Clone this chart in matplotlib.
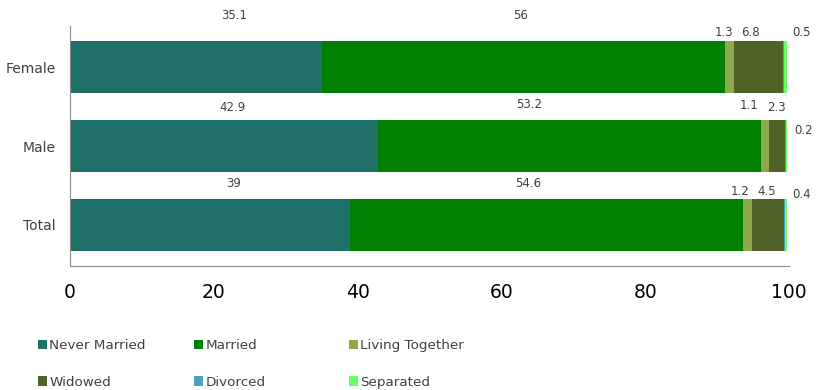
import numpy as np
import matplotlib
matplotlib.use('Agg')
from matplotlib import pyplot as plt
from matplotlib.patches import Patch

groups = ['Female', 'Male', 'Total']
status = ['Never Married', 'Married', 'Living Together', 'Widowed', 'Divorced', 'Separated']
colors = ['#1F7068', '#008000', '#8FA84E', '#4F6228', '#4BA3C0', '#66FF66']

never_married = [35.1, 42.9, 39.0]
married = [56.0, 53.2, 54.6]
living_together = [1.3, 1.1, 1.2]
widowed = [6.8, 2.3, 4.5]
divorced = [0.1, 0.1, 0.1]
separated = [0.5, 0.2, 0.4]

series = [never_married, married, living_together, widowed, divorced, separated]

# label text shown per group (divorced is not labelled in the original)
label_text = [
    ['35.1', '56', '1.3', '6.8', '0.5'],
    ['42.9', '53.2', '1.1', '2.3', '0.2'],
    ['39', '54.6', '1.2', '4.5', '0.4'],
]
# where the labels sit (x in data units, y offset from bar centre)
label_x = [
    [22.8, 62.7, 91.0, 94.6, 101.8],
    [22.6, 63.8, 94.4, 98.2, 102.1],
    [22.7, 63.8, 93.2, 96.9, 101.7],
]
label_dy = [
    [-0.66, -0.66, -0.44, -0.44, -0.44],
    [-0.49, -0.53, -0.52, -0.49, -0.20],
    [-0.53, -0.53, -0.42, -0.42, -0.38],
]

fig = plt.figure(figsize=(8.16, 3.9), dpi=100)
ax = fig.add_axes([0.0858, 0.318, 0.881, 0.615])

y = np.arange(len(groups))
left = np.zeros(len(groups))
for vals, col, name in zip(series, colors, status):
    ax.barh(y, vals, left=left, height=0.66, color=col, label=name)
    left = left + np.array(vals)

for i in range(len(groups)):
    for t, lx, dy in zip(label_text[i], label_x[i], label_dy[i]):
        ax.text(lx, y[i] + dy, t, ha='center', va='center', fontsize=8.5,
                color='#404040', clip_on=False)

ax.set_xlim(0, 100)
ax.set_ylim(2.52, -0.52)
ax.set_yticks(y)
ax.set_yticklabels(groups, fontsize=10, color='#404040')
ax.set_xticks([0, 20, 40, 60, 80, 100])
ax.tick_params(axis='x', labelsize=13.5, length=0, pad=12)
ax.tick_params(axis='y', length=0, pad=10)
for s in ['top', 'right']:
    ax.spines[s].set_visible(False)
for s in ['left', 'bottom']:
    ax.spines[s].set_color('#8C8C8C')

# legend: three columns placed by hand, two rows each
handles = [Patch(facecolor=c) for c in colors]
col_x = [0.040, 0.231, 0.421]
for k in range(3):
    idx = [k, k + 3]
    fig.legend([handles[j] for j in idx], [status[j] for j in idx],
               loc='upper left', bbox_to_anchor=(col_x[k], 0.144),
               frameon=False, fontsize=9.7, handlelength=0.7, handleheight=0.7,
               handletextpad=0.15, labelspacing=1.75, borderaxespad=0,
               labelcolor='#404040')

fig.savefig('out.png', dpi=100)
